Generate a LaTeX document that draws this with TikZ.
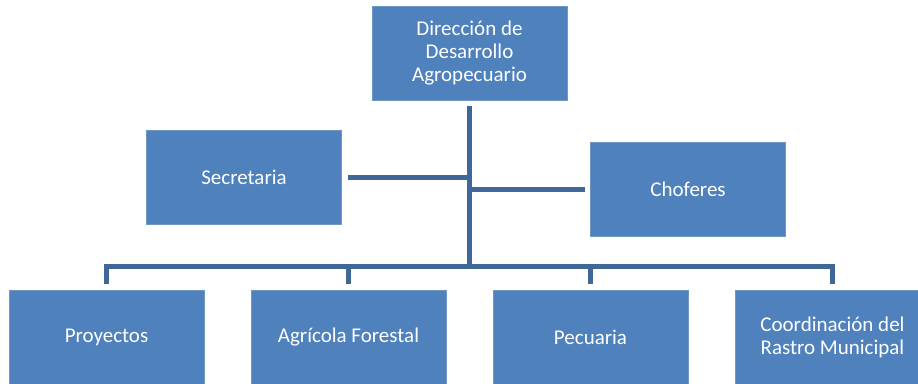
\documentclass[tikz,border=0pt]{standalone}
\usepackage{fontspec}
\setmainfont{Carlito}
\definecolor{boxblue}{HTML}{4F81BD}
\definecolor{edgeblue}{HTML}{6E97C8}
\definecolor{lineblue}{HTML}{3F6899}
\begin{document}
\begin{tikzpicture}[x=1pt,y=-1pt,
  unit/.style={fill=boxblue,draw=edgeblue,line width=0.6pt,minimum width=195pt,minimum height=94pt,
    inner sep=0pt,text=white,align=center,font=\fontsize{21}{23}\selectfont},
  conn/.style={draw=lineblue,line width=5pt}]
\useasboundingbox (0,0) rectangle (918,383);
\node[unit] (top) at (469.5,53) {Dirección de\\Desarrollo\\Agropecuario};
\node[unit] (sec) at (244,177) {Secretaria};
\node[unit] (chof) at (688,189.5) {Choferes};
\node[unit] (proy) at (106.5,337) {Proyectos};
\node[unit] (agri) at (348.5,337) {Agrícola Forestal};
\node[unit] (pec) at (590.5,337) {Pecuaria};
\node[unit] (rastro) at (832.5,337) {Coordinación del\\Rastro Municipal};
\coordinate (bus) at ([yshift=23pt]proy.north);
\draw[conn] ([yshift=-6pt]top.south) -- (top.south |- bus);
\draw[conn] ([xshift=6pt]sec.east) -- (sec.east -| top.south);
\draw[conn] ([xshift=-5pt]chof.west) -- (chof.west -| top.south);
\draw[conn] ([yshift=6pt]proy.north) |- ([yshift=23pt]rastro.north) -- ([yshift=6pt]rastro.north);
\draw[conn] ([yshift=6pt]agri.north) -- ([yshift=23pt]agri.north);
\draw[conn] ([yshift=6pt]pec.north) -- ([yshift=23pt]pec.north);
\end{tikzpicture}
\end{document}
